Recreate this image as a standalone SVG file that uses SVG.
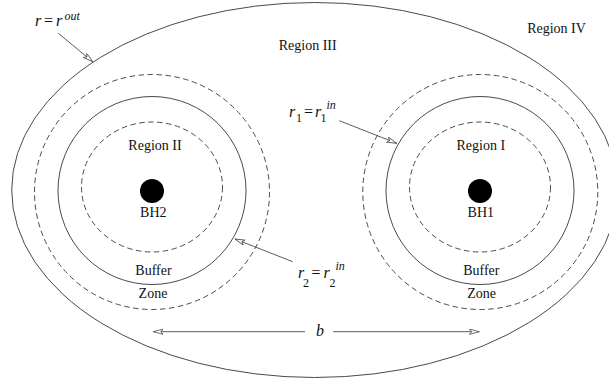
<svg xmlns="http://www.w3.org/2000/svg" width="609" height="383" viewBox="0 0 609 383">
<style>
.solid{fill:none;stroke:#4a4a4a;stroke-width:1}
.dash{fill:none;stroke:#4a4a4a;stroke-width:1;stroke-dasharray:5.5,3.5}
.lbl{font-family:"Liberation Serif","Times New Roman",serif;font-size:14px;fill:#111;text-anchor:middle}
.math{font-family:"Liberation Serif","Times New Roman",serif;font-style:italic;font-size:16px;fill:#111}
.sub{font-family:"Liberation Serif","Times New Roman",serif;font-size:12px;fill:#111}
.sup{font-family:"Liberation Serif","Times New Roman",serif;font-style:italic;font-size:12px;fill:#111}
.eq{font-family:"Liberation Serif","Times New Roman",serif;font-size:16px;fill:#111}
.conn{fill:none;stroke:#4a4a4a;stroke-width:0.9}
</style>
<defs>
<marker id="ah" markerUnits="userSpaceOnUse" markerWidth="12" markerHeight="8" refX="10" refY="3" orient="auto-start-reverse">
<path d="M0,0.3 L10,3 L0,5.7 L2.5,3 Z" fill="#fff" stroke="#4a4a4a" stroke-width="0.8" stroke-linejoin="miter"/>
</marker>
</defs>
<rect width="609" height="383" fill="#fff"/>
<g id="outer-region">
<ellipse class="solid" cx="314.7" cy="190" rx="303" ry="187.5"/>
<text class="lbl" x="307.7" y="50">Region III</text>
<text class="lbl" x="556.5" y="32.7">Region IV</text>
</g>
<g id="bh2-system">
<circle class="dash" cx="152" cy="192" r="117.5"/>
<circle class="solid" cx="152" cy="190.5" r="94"/>
<ellipse class="dash" cx="152" cy="187" rx="70.5" ry="65"/>
<circle cx="152" cy="191" r="12" fill="#000"/>
<text class="lbl" x="155" y="150">Region II</text>
<text class="lbl" x="153.3" y="216.7">BH2</text>
<text class="lbl" x="153.5" y="275">Buffer</text>
<text class="lbl" x="153" y="298.3">Zone</text>
</g>
<g id="bh1-system">
<circle class="dash" cx="480.3" cy="192" r="117.5"/>
<circle class="solid" cx="480" cy="190.5" r="94"/>
<ellipse class="dash" cx="480" cy="187" rx="70.5" ry="65"/>
<circle cx="480" cy="191" r="12" fill="#000"/>
<text class="lbl" x="480.8" y="150">Region I</text>
<text class="lbl" x="480.8" y="216.7">BH1</text>
<text class="lbl" x="481.3" y="275">Buffer</text>
<text class="lbl" x="481.7" y="298.3">Zone</text>
</g>
<g id="labels">
<g id="label-rout">
<text class="math" x="35" y="26">r</text>
<text class="eq" x="44" y="26">=</text>
<text class="math" x="56" y="26">r</text>
<text class="sup" x="64.5" y="20">out</text>
</g>
<g id="label-r1">
<text class="math" x="289" y="117">r</text>
<text class="sub" x="296" y="122">1</text>
<text class="eq" x="304" y="117">=</text>
<text class="math" x="315" y="117">r</text>
<text class="sub" x="320.5" y="122">1</text>
<text class="sup" x="326.5" y="108.5">in</text>
</g>
<g id="label-r2">
<text class="math" x="298" y="278">r</text>
<text class="sub" x="303" y="286.5">2</text>
<text class="eq" x="311.5" y="278">=</text>
<text class="math" x="323.5" y="278">r</text>
<text class="sub" x="329.5" y="286.5">2</text>
<text class="sup" x="335.5" y="269.5">in</text>
</g>
<text class="math" x="316" y="336">b</text>
</g>
<g id="connectors">
<line class="conn" x1="58.3" y1="33.3" x2="92.7" y2="61.7" marker-end="url(#ah)"/>
<line class="conn" x1="339.3" y1="120.7" x2="396.7" y2="143.3" marker-end="url(#ah)"/>
<line class="conn" x1="292.7" y1="261.7" x2="235" y2="239" marker-end="url(#ah)"/>
<line class="conn" x1="305" y1="331.7" x2="153.3" y2="331.7" marker-end="url(#ah)"/>
<line class="conn" x1="333.3" y1="331.7" x2="479.3" y2="331.7" marker-end="url(#ah)"/>
</g>
</svg>
